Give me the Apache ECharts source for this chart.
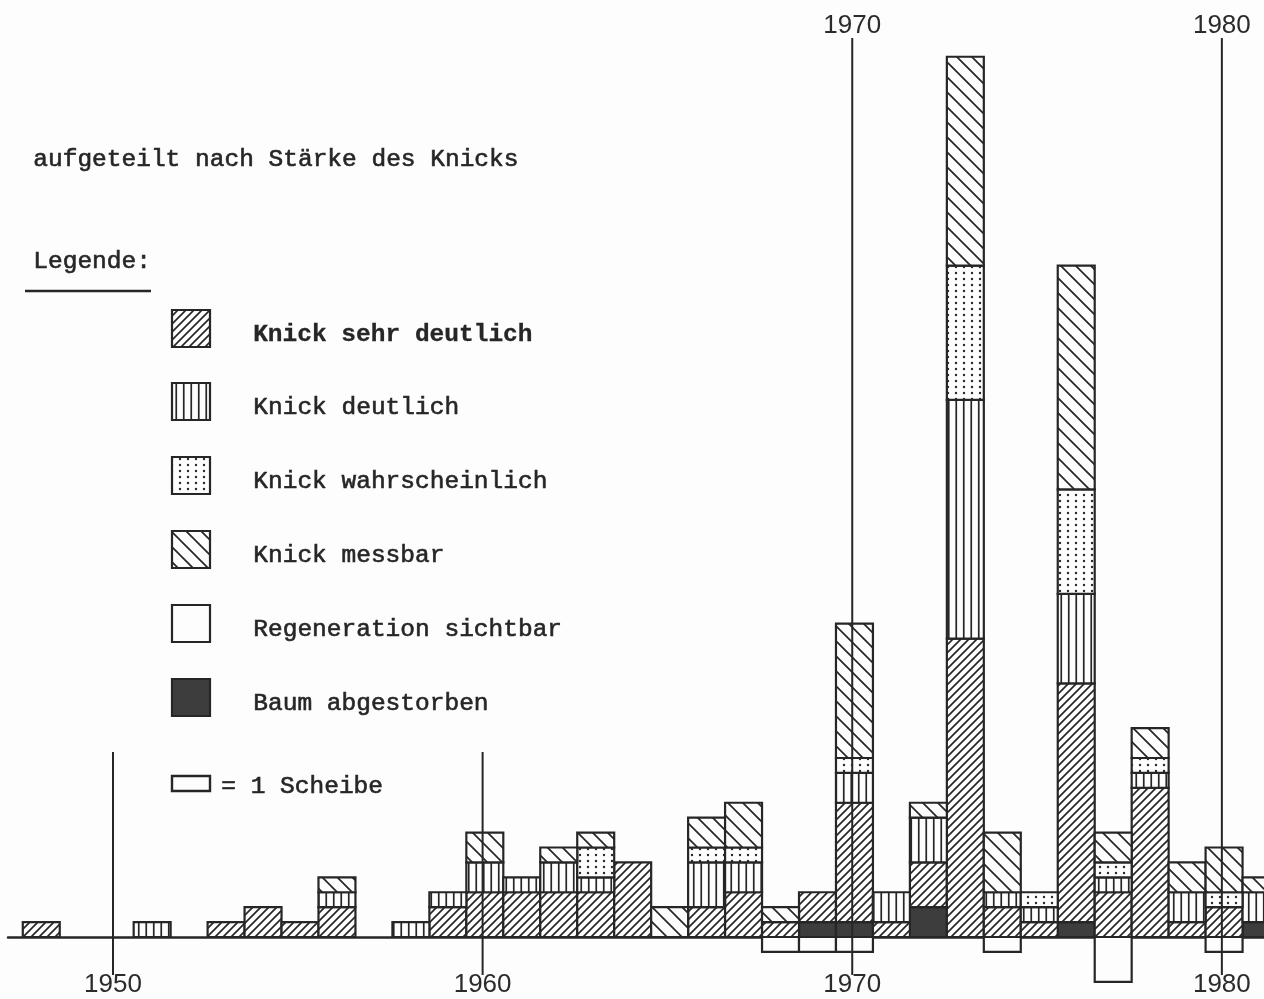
<!DOCTYPE html>
<html>
<head>
<meta charset="utf-8">
<script src="https://cdn.jsdelivr.net/npm/echarts@6.0.0/dist/echarts.min.js"></script>
<style>
  html, body { margin: 0; padding: 0; background: #fdfdfd; }
  #chart { width: 1264px; height: 999px; }
</style>
</head>
<body>
<div id="chart"></div>
<script>
// ---- data (number of discs per year and category) ----
const years = [1948,1949,1950,1951,1952,1953,1954,1955,1956,1957,1958,1959,1960,1961,1962,1963,1964,1965,1966,1967,1968,1969,1970,1971,1972,1973,1974,1975,1976,1977,1978,1979,1980,1981];
const baumAbgestorben     = [0,0,0,0,0,0,0,0,0,0,0,0,0,0,0,0,0,0,0,0,0,1,1,0,2,0,0,0,1,0,0,0,0,1];
const knickSehrDeutlich   = [1,0,0,0,0,1,2,1,2,0,0,2,3,3,3,3,5,0,2,3,1,2,8,1,3,20,2,1,16,3,10,1,2,0];
const knickDeutlich       = [0,0,0,1,0,0,0,0,1,0,1,1,2,1,2,1,0,0,3,2,0,0,2,2,3,16,1,1,6,1,1,2,0,2];
const knickWahrscheinlich = [0,0,0,0,0,0,0,0,0,0,0,0,0,0,0,2,0,0,1,1,0,0,1,0,0,9,0,1,7,1,1,0,1,0];
const knickMessbar        = [0,0,0,0,0,0,0,0,1,0,0,0,2,0,1,1,0,2,2,3,1,0,9,0,1,14,4,0,15,2,2,2,3,1];
const regeneration        = [0,0,0,0,0,0,0,0,0,0,0,0,0,0,0,0,0,0,0,0,1,1,1,0,0,0,1,0,0,3,0,0,1,0];
const markYears = [1950, 1960, 1970, 1980];
const topLabelYears = [1970, 1980];
const titleText = 'aufgeteilt nach Stärke des Knicks';
const legendTitle = 'Legende:';
const legendLabels = ['Knick sehr deutlich','Knick deutlich','Knick wahrscheinlich','Knick messbar','Regeneration sichtbar','Baum abgestorben'];
const unitLabel = '= 1 Scheibe';

// ---- patterns ----
const INK = '#262626';
function tile(w, h, draw) {
  const c = document.createElement('canvas');
  c.width = w; c.height = h;
  const ctx = c.getContext('2d');
  ctx.fillStyle = '#fdfdfd';
  ctx.fillRect(0, 0, w, h);
  ctx.strokeStyle = INK; ctx.fillStyle = INK;
  draw(ctx, w, h);
  return { image: c, repeat: 'repeat' };
}
const patSehr = tile(8, 8, (ctx, s) => {
  ctx.lineWidth = 1.7; ctx.beginPath();
  ctx.moveTo(0, s); ctx.lineTo(s, 0);
  ctx.moveTo(-s/2, s/2); ctx.lineTo(s/2, -s/2);
  ctx.moveTo(s/2, s*1.5); ctx.lineTo(s*1.5, s/2);
  ctx.stroke();
});
const patDeutlich = tile(15, 4, (ctx) => {
  ctx.lineWidth = 1.7; ctx.beginPath();
  ctx.moveTo(3.75, 0); ctx.lineTo(3.75, 4);
  ctx.moveTo(11.25, 0); ctx.lineTo(11.25, 4);
  ctx.stroke();
});
const patWahr = tile(8, 6, (ctx) => {
  ctx.beginPath(); ctx.arc(4, 3, 1.2, 0, Math.PI*2); ctx.fill();
});
const patMess = tile(15, 15, (ctx, s) => {
  ctx.lineWidth = 1.7; ctx.beginPath();
  ctx.moveTo(0, 0); ctx.lineTo(s, s);
  ctx.moveTo(-s/2, s/2); ctx.lineTo(s/2, s*1.5);
  ctx.moveTo(s/2, -s/2); ctx.lineTo(s*1.5, s/2);
  ctx.stroke();
});
const fillRegen = '#fdfdfd';
const fillDead = '#3d3d3d';

// ---- build stacked segments ----
const stackOrder = [
  { name: 'Baum abgestorben', values: baumAbgestorben, fill: fillDead },
  { name: 'Knick sehr deutlich', values: knickSehrDeutlich, fill: patSehr },
  { name: 'Knick deutlich', values: knickDeutlich, fill: patDeutlich },
  { name: 'Knick wahrscheinlich', values: knickWahrscheinlich, fill: patWahr },
  { name: 'Knick messbar', values: knickMessbar, fill: patMess }
];
const segData = stackOrder.map(() => []);
years.forEach((yr, i) => {
  let base = 0;
  stackOrder.forEach((cat, k) => {
    const v = cat.values[i];
    if (v > 0) { segData[k].push([yr, base, base + v]); base += v; }
  });
});
const regenData = [];
years.forEach((yr, i) => { if (regeneration[i] > 0) regenData.push([yr, -regeneration[i], 0]); });

// bars are drawn a hair to the right of the year mark, as in the original drawing
const BAR_SHIFT = 0.06;
function segRenderer(fill) {
  return function (params, api) {
    const x = api.value(0) + BAR_SHIFT, y0 = api.value(1), y1 = api.value(2);
    const p0 = api.coord([x - 0.5, y1]);
    const p1 = api.coord([x + 0.5, y0]);
    return {
      type: 'rect',
      shape: { x: p0[0], y: p0[1], width: p1[0] - p0[0], height: p1[1] - p0[1] },
      style: { fill: fill, stroke: INK, lineWidth: 2.2 }
    };
  };
}

const series = stackOrder.map((cat, k) => ({
  type: 'custom', name: cat.name, data: segData[k], clip: false, z: 2,
  renderItem: segRenderer(cat.fill)
}));
series.push({
  type: 'custom', name: 'Regeneration sichtbar', data: regenData, clip: false, z: 2,
  renderItem: segRenderer(fillRegen)
});
// year reference lines + labels
series.push({
  type: 'custom', name: 'years', clip: false, z: 5,
  data: markYears.map(y => [y]),
  renderItem: function (params, api) {
    const yr = api.value(0);
    const px = api.coord([yr, 0])[0];
    const hasTop = topLabelYears.indexOf(yr) >= 0;
    const children = [
      { type: 'line', shape: { x1: px, y1: hasTop ? 38 : 752, x2: px, y2: 975 },
        style: { stroke: INK, lineWidth: 2 } },
      { type: 'text', style: { text: String(yr), x: px, y: 985, align: 'center', verticalAlign: 'middle',
        font: '26px "Liberation Sans"', fill: '#2b2b2b' } }
    ];
    if (hasTop) children.push({ type: 'text', style: { text: String(yr), x: px, y: 26, align: 'center',
        verticalAlign: 'middle', font: '26px "Liberation Sans"', fill: '#2b2b2b' } });
    return { type: 'group', children: children };
  }
});

// ---- legend graphics ----
const legendFills = [patSehr, patDeutlich, patWahr, patMess, fillRegen, fillDead];
const monoFont = '24.5px "Liberation Mono"';
function monoText(left, top, text, bold) {
  return { type: 'text', left: left, top: top, style: { text: text,
    font: (bold ? 'bold ' : '') + monoFont, fill: '#262626',
    stroke: '#262626', lineWidth: bold ? 0.3 : 0.6 } };
}
const graphic = [
  monoText(33, 147, titleText, false),
  monoText(33, 249, legendTitle, false),
  { type: 'line', shape: { x1: 25, y1: 291, x2: 151, y2: 291 }, style: { stroke: INK, lineWidth: 2.5 } },
  { type: 'rect', shape: { x: 172, y: 776, width: 38, height: 15 }, style: { fill: '#fdfdfd', stroke: INK, lineWidth: 2.4 } },
  monoText(221, 774, unitLabel, false)
];
const boxTops = [310, 383, 457, 531, 605, 679];
legendLabels.forEach((lab, i) => {
  graphic.push({ type: 'rect', shape: { x: 172, y: boxTops[i], width: 38, height: 37 },
    style: { fill: legendFills[i], stroke: INK, lineWidth: 2.2 } });
  graphic.push(monoText(253, boxTops[i] + 12, lab, i === 0));
});

const chart = echarts.init(document.getElementById('chart'), null, { renderer: 'canvas' });
chart.setOption({
  backgroundColor: '#fdfdfd',
  animation: false,
  grid: { left: 8, right: 0, top: 12, bottom: 2.3 },
  xAxis: {
    type: 'value', min: 1947.16, max: 1981.14,
    axisLine: { show: true, onZero: true, lineStyle: { color: INK, width: 2.5 } },
    axisTick: { show: false }, axisLabel: { show: false }, splitLine: { show: false }
  },
  yAxis: { type: 'value', min: -4, max: 62, show: false, splitLine: { show: false } },
  graphic: graphic,
  series: series
});
</script>
</body>
</html>
